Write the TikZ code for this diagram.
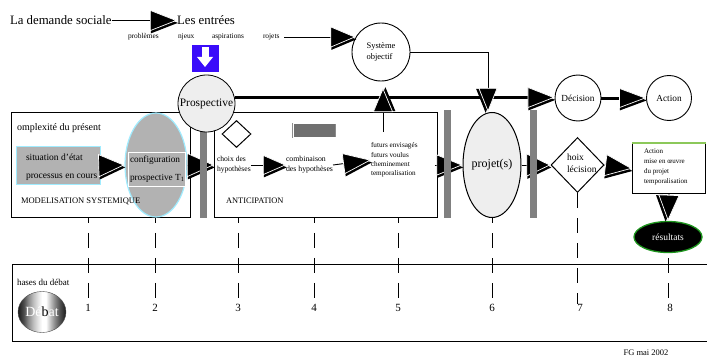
\documentclass[tikz,border=0pt]{standalone}
\usepackage{fontspec}
\setmainfont{Liberation Serif}
\usetikzlibrary{arrows.meta,shapes.geometric,decorations.markings,calc}
\definecolor{bleu}{RGB}{58,12,250}
\definecolor{cyanb}{RGB}{160,236,255}
\definecolor{grisbox}{RGB}{178,178,178}
\definecolor{grisbar}{RGB}{128,128,128}
\definecolor{grisclair}{RGB}{238,238,238}
\definecolor{grisrect}{RGB}{112,112,112}
\definecolor{vertA}{RGB}{140,200,90}
\definecolor{vertB}{RGB}{30,150,30}
\pgfdeclarehorizontalshading{debatstripes}{100bp}{color(0bp)=(black!90); color(25bp)=(black!90); color(31bp)=(black!70); color(36bp)=(black!45); color(41bp)=(black!25); color(46bp)=(black!10); color(50bp)=(white); color(54bp)=(white); color(58bp)=(black!20); color(63bp)=(black!45); color(69bp)=(black!70); color(75bp)=(black!90); color(100bp)=(black!90)}
\newcommand{\fsz}[2]{\fontsize{#1}{#2}\selectfont}
\tikzset{
  txt/.style={inner sep=0pt, outer sep=0pt, anchor=west, align=left},
  conn/.style={line width=0.9pt},
  tipA/.style 2 args={-{Triangle[length=#1,width=#2,fill=black,color=white,line width=0.7pt]},
    preaction={decorate,decoration={markings,mark=at position 1 with {\fill[black] (0.8pt,-2.4pt) -- ++(-#1,0.5*#2) -- ++(0pt,-#2) -- cycle;}}}},
  dashline/.style={line width=1pt, dash pattern=on 15pt off 10pt, dash phase=#1},
  dashline/.default=10pt,
  graybar/.style={fill=grisbar, minimum width=7pt, minimum height=108pt, inner sep=0pt},
  bigbox/.style={draw, line width=0.8pt, fill=white, minimum height=105pt, inner sep=0pt, anchor=north west},
  numb/.style={inner sep=0pt, font=\fsz{11}{13}},
  circ/.style={circle, draw, line width=0.9pt, inner sep=0pt},
}
\begin{document}
\begin{tikzpicture}[x=1pt,y=-1pt]
\useasboundingbox (0,0) rectangle (707,361);

% top texts
\node[txt,font=\fsz{12.8}{15}] (dem) at (10,20.5) {La demande sociale};
\node[txt,font=\fsz{12.8}{15}] (ent) at (177,20.5) {Les entrées};
\draw[conn,tipA={27pt}{21pt}] (dem.east) -- (ent.west);
\node[txt,font=\fsz{7.4}{9}] (pb) at (128,37) {problèmes};
\node[txt,font=\fsz{7.4}{9}] (enj) at (178,37) {njeux};
\node[txt,font=\fsz{7.4}{9}] (asp) at (212,37) {aspirations};
\node[txt,font=\fsz{7.4}{9}] (projs) at (263,37) {rojets};

\node[circ,minimum size=58pt,align=left,font=\fsz{8.5}{11}] (sys) at (381,52) {Système\\objectif};
\draw[conn,tipA={25pt}{21pt}] ([xshift=5pt]projs.east) -- (projs.east -| sys.150);

% blue square
\node[fill=bleu,minimum size=27pt,inner sep=0pt] (blue) at (205,58.5) {};
\fill[white] (201.5,47) rectangle (208.5,57.5);
\fill[white] (197,57) -- (213,57) -- (205,67) -- cycle;

% left box
\node[bigbox,minimum width=179pt] (boxL) at (11,112) {};
\node[txt,font=\fsz{10}{12}] (cpx) at (17,128) {omplexité du présent};
\node[draw=cyanb,line width=1.2pt,fill=grisbox,minimum width=84pt,minimum height=38pt,inner sep=0pt,anchor=north west] (sit) at (16,146) {};
\node[txt,font=\fsz{9.5}{11}] (sit1) at (26,157) {situation d’état};
\node[txt,font=\fsz{9.5}{11}] (sit2) at (26,177) {processus en cours};
\node[ellipse,draw=cyanb,line width=1.2pt,fill=grisbox,minimum width=62pt,minimum height=104pt,inner sep=0pt] (ell) at (156,165) {};
\node[draw=white,line width=1pt,fill=grisbox,minimum width=57pt,minimum height=34pt,inner sep=0pt,anchor=north west] (cfg) at (128,152) {};
\node[txt,font=\fsz{9.3}{11}] (cfg1) at (130,160) {configuration};
\node[txt,font=\fsz{9.3}{11}] (cfg2) at (130,178) {prospective T\textsubscript{1}};
\draw[conn,tipA={26pt}{23pt}] (sit.east) -- (ell.west);
\node[txt,font=\fsz{8.5}{10}] (mod) at (21,201) {MODELISATION SYSTEMIQUE};

% middle box
\node[bigbox,minimum width=223pt] (boxM) at (214,112) {};
\draw[conn,tipA={27pt}{24pt}] (ell.east) -- (ell.east -| boxM.west);
\node[diamond,draw,line width=1pt,minimum width=29pt,minimum height=27pt,inner sep=0pt] (dia1) at (236.5,134) {};
\node[draw=black!45,double=white,double distance=0.8pt,fill=grisrect,minimum width=43pt,minimum height=14pt,inner sep=0pt] (grect) at (314.5,130.5) {};
\node[txt,font=\fsz{7.6}{10}] (choix) at (217,165) {choix des\\hypothèses};
\node[txt,font=\fsz{7.8}{10}] (comb) at (286,165) {combinaison\\des hypothèses};
\node[txt,font=\fsz{7.2}{9.4}] (fut) at (371,160) {futurs envisagés\\futurs voulus\\cheminement\\temporalisation};
\draw[conn,tipA={23pt}{20pt}] (choix.east) -- (comb.west);
\draw[conn,tipA={28pt}{21pt}] (comb.east) -- (fut.west);
\node[txt,font=\fsz{8.4}{10}] (anti) at (226,201) {ANTICIPATION};

% projet(s)
\node[ellipse,draw,line width=1pt,fill=grisclair,minimum width=58pt,minimum height=105pt,inner sep=0pt,font=\fsz{12}{14}] (proj) at (492,165) {projet(s)};
\draw[conn,tipA={26pt}{21pt}] ([xshift=-3pt]boxM.east |- proj.west) -- (proj.west);

% decision diamond
\node[diamond,draw,line width=1pt,minimum width=53pt,minimum height=55pt,inner sep=0pt] (dia2) at (577.5,165) {};
\node[txt,font=\fsz{9.5}{12}] (dtx) at (567,163) {hoix\\lécision};
\draw[conn,tipA={24pt}{23pt}] (proj.east |- dia2.west) -- (dia2.west);

% action box
\node[draw,line width=1pt,minimum width=73pt,minimum height=50pt,inner sep=0pt,anchor=north west] (actbox) at (632,143) {};
\draw[vertA,line width=1.6pt] (actbox.north west) -- (actbox.north east);
\node[txt,font=\fsz{7}{10}] (acttx) at (644,167) {Action\\mise en œuvre\\du projet\\temporalisation};
\draw[conn,tipA={27pt}{22pt}] (dia2.east) -- (actbox.west);
\node[ellipse,fill=black,draw=vertB,line width=1.3pt,minimum width=68pt,minimum height=31pt,inner sep=0pt,text=white,font=\fsz{9.5}{11}] (res) at (668,237) {résultats};
\draw[conn,tipA={26pt}{21pt}] (actbox.south) -- (res.north);

% gray bars (over the arrows)
\node[graybar] (bar1) at (203.5,164) {};
\node[graybar] (bar2) at (447.5,164) {};
\node[graybar] (bar3) at (533.5,164) {};

% prospective and main line
\node[circ,line width=0.8pt,fill=grisclair,minimum size=57pt,font=\fsz{11.4}{13}] (pros) at (206.5,103.5) {Prospective};
\node[circ,minimum size=46pt,font=\fsz{9.3}{11}] (deci) at (578,98) {Décision};
\node[circ,minimum size=45pt,font=\fsz{9.3}{11}] (act) at (669,98) {Action};
\draw[line width=3pt,tipA={27pt}{21pt}] (pros.12) -- (pros.12 -| deci.west);
\draw[line width=3pt,tipA={27pt}{20pt}] (deci.east) -- (act.west);
\coordinate (upB) at (383,132);
\coordinate (upT) at (383,88);
\draw[conn,tipA={24pt}{20pt}] (upB) -- (upT);
\coordinate (dnT) at (488,112);
\draw[conn,tipA={24pt}{19pt}] (sys.east) -| (dnT);

% phases band
\node[draw,line width=1.2pt,minimum width=700pt,minimum height=77pt,inner sep=0pt,anchor=north west] (phase) at (12,264) {};
\node[txt,font=\fsz{9}{11}] (phtx) at (17,282) {hases du débat};
\node[ellipse,draw=black!70,shading=debatstripes,minimum width=48pt,minimum height=41pt,inner sep=0pt,font=\fsz{14}{16}] (deb) at (42,312) {{\color{white}Dé}b{\color{white}at}};

\node[numb] (n1) at (88,308) {1};
\node[numb] (n2) at (155,308) {2};
\node[numb] (n3) at (238,308) {3};
\node[numb] (n4) at (314,308) {4};
\node[numb] (n5) at (398,308) {5};
\node[numb] (n6) at (492,308) {6};
\node[numb] (n7) at (580,308) {7};
\node[numb] (n8) at (670,308) {8};
\draw[dashline] (n1.north |- boxL.south) -- (n1.north);
\draw[dashline] (n2.north |- boxL.south) -- (n2.north);
\draw[dashline] (n3.north |- boxM.south) -- (n3.north);
\draw[dashline] (n4.north |- boxM.south) -- (n4.north);
\draw[dashline] (n5.north |- boxM.south) -- (n5.north);
\draw[dashline] (proj.south) -- (proj.south |- n6.north);
\draw[dashline=0pt] (dia2.south) -- (dia2.south |- n7.north);
\draw[dashline=20pt] (res.south) -- (res.south |- n8.north);

\node[font=\fsz{8.5}{10},inner sep=0pt] (pfg) at (646,353) {FG mai 2002};
\end{tikzpicture}
\end{document}
